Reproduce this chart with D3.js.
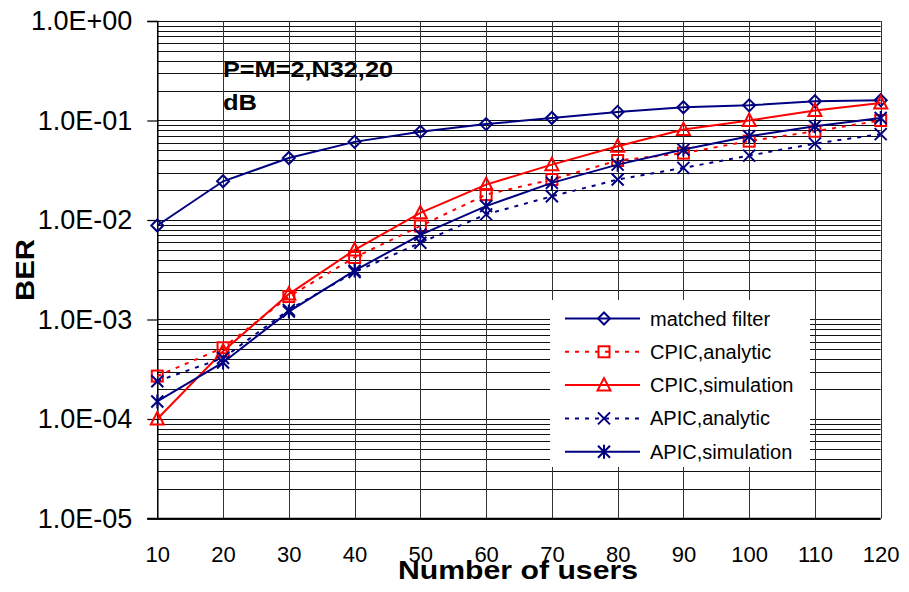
<!DOCTYPE html>
<html>
<head>
<meta charset="utf-8">
<script src="https://cdn.jsdelivr.net/npm/d3@7"></script>
<style>
  body { margin:0; background:#fff; }
  text { font-family: "Liberation Sans", Arial, sans-serif; }
</style>
</head>
<body>
<div id="chart"></div>
<script>
// values
var users = [10, 20, 30, 40, 50, 60, 70, 80, 90, 100, 110, 120];
var matchedFilter = [0.0088, 0.0245, 0.042, 0.061, 0.077, 0.092, 0.106, 0.122, 0.136, 0.142, 0.156, 0.160];
var cpicAnalytic  = [2.7e-4, 5.2e-4, 1.7e-3, 4.2e-3, 8.7e-3, 0.018, 0.0255, 0.0396, 0.047, 0.062, 0.078, 0.100];
var cpicSim       = [1.0e-4, 4.8e-4, 1.8e-3, 5.0e-3, 0.0118, 0.0227, 0.036, 0.055, 0.081, 0.100, 0.126, 0.150];
var apicAnalytic  = [2.4e-4, 4.1e-4, 1.25e-3, 3.0e-3, 5.9e-3, 0.0114, 0.0173, 0.0255, 0.0334, 0.0444, 0.0586, 0.073];
var apicSim       = [1.5e-4, 3.7e-4, 1.2e-3, 3.1e-3, 7.1e-3, 0.0138, 0.0236, 0.036, 0.051, 0.0695, 0.0874, 0.106];
var yTickLabels = ["1.0E-05", "1.0E-04", "1.0E-03", "1.0E-02", "1.0E-01", "1.0E+00"];
var seriesNames = ["matched filter", "CPIC,analytic", "CPIC,simulation", "APIC,analytic", "APIC,simulation"];

var W = 909, H = 592;
var plotL = 157.3, plotR = 880.7, plotT = 21, plotB = 518.5;

var svg = d3.select("#chart").append("svg")
    .attr("width", W).attr("height", H);

var x = d3.scaleLinear().domain([10, 120]).range([plotL, plotR]);
var y = d3.scaleLog().domain([1e-5, 1]).range([plotB, plotT]);

// horizontal grid (log minor lines)
svg.append("g").selectAll("line")
    .data(y.ticks())
    .enter().append("line")
    .attr("x1", plotL).attr("x2", plotR)
    .attr("y1", function(d) { return Math.round(y(d)) + 0.5; })
    .attr("y2", function(d) { return Math.round(y(d)) + 0.5; })
    .attr("stroke", "#111").attr("stroke-width", 1);

// vertical grid
svg.append("g").selectAll("line")
    .data(users)
    .enter().append("line")
    .attr("x1", function(d) { return Math.round(x(d)) + 0.5; })
    .attr("x2", function(d) { return Math.round(x(d)) + 0.5; })
    .attr("y1", plotT).attr("y2", plotB)
    .attr("stroke", "#333").attr("stroke-width", 1);

// y axis
var decades = [1e-5, 1e-4, 1e-3, 1e-2, 1e-1, 1];
var yAxis = d3.axisLeft(y).tickValues(decades)
    .tickFormat(function(d, i) { return yTickLabels[i]; })
    .tickSize(10).tickPadding(15);
var gy = svg.append("g").attr("transform", "translate(" + plotL + ",0)").call(yAxis);
gy.select(".domain").attr("stroke", "#000").attr("stroke-width", 1.5);
gy.selectAll(".tick line").attr("stroke", "#000").attr("stroke-width", 1.2);
gy.selectAll(".tick text").attr("font-size", 27).attr("fill", "#000")
    .attr("font-family", "Liberation Sans, Arial, sans-serif");

// x axis (labels only, bottom line)
var xAxis = d3.axisBottom(x).tickValues(users).tickSize(0).tickPadding(28);
var gx = svg.append("g").attr("transform", "translate(0," + plotB + ")").call(xAxis);
gx.select(".domain").attr("stroke", "#000").attr("stroke-width", 1.5)
    .attr("d", "M" + (plotL - 10) + ",0H" + plotR);
gx.selectAll(".tick text").attr("font-size", 22).attr("fill", "#000")
    .attr("font-family", "Liberation Sans, Arial, sans-serif");

// axis titles
svg.append("text")
    .attr("x", 518).attr("y", 579)
    .attr("text-anchor", "middle")
    .attr("font-size", 26).attr("font-weight", "bold")
    .attr("textLength", 240).attr("lengthAdjust", "spacingAndGlyphs")
    .text("Number of users");

svg.append("text")
    .attr("transform", "translate(34,270) rotate(-90)")
    .attr("text-anchor", "middle")
    .attr("font-size", 26).attr("font-weight", "bold")
    .attr("textLength", 62).attr("lengthAdjust", "spacingAndGlyphs")
    .text("BER");

// annotation
svg.append("text")
    .attr("x", 223).attr("y", 77)
    .attr("font-size", 22).attr("font-weight", "bold")
    .attr("textLength", 170).attr("lengthAdjust", "spacingAndGlyphs")
    .text("P=M=2,N32,20");
svg.append("text")
    .attr("x", 223).attr("y", 110)
    .attr("font-size", 22).attr("font-weight", "bold")
    .attr("textLength", 34).attr("lengthAdjust", "spacingAndGlyphs")
    .text("dB");

// marker shapes
function drawMarker(g, type, cx, cy, color) {
  var s = 6;
  if (type == "diamond") {
    g.append("path").attr("d", "M" + cx + "," + (cy - s) + "L" + (cx + s) + "," + cy + "L" + cx + "," + (cy + s) + "L" + (cx - s) + "," + cy + "Z")
      .attr("fill", "none").attr("stroke", color).attr("stroke-width", 2);
  } else if (type == "square") {
    g.append("rect").attr("x", cx - 5.5).attr("y", cy - 5.5).attr("width", 11).attr("height", 11)
      .attr("fill", "none").attr("stroke", color).attr("stroke-width", 2);
  } else if (type == "triangle") {
    g.append("path").attr("d", "M" + cx + "," + (cy - 7) + "L" + (cx + 6.5) + "," + (cy + 5.5) + "L" + (cx - 6.5) + "," + (cy + 5.5) + "Z")
      .attr("fill", "none").attr("stroke", color).attr("stroke-width", 2);
  } else if (type == "x") {
    g.append("path").attr("d", "M" + (cx - s) + "," + (cy - s) + "L" + (cx + s) + "," + (cy + s) + "M" + (cx + s) + "," + (cy - s) + "L" + (cx - s) + "," + (cy + s))
      .attr("fill", "none").attr("stroke", color).attr("stroke-width", 2);
  } else if (type == "star") {
    g.append("path").attr("d", "M" + (cx - s) + "," + (cy - s) + "L" + (cx + s) + "," + (cy + s) + "M" + (cx + s) + "," + (cy - s) + "L" + (cx - s) + "," + (cy + s) + "M" + cx + "," + (cy - s - 1) + "L" + cx + "," + (cy + s + 1))
      .attr("fill", "none").attr("stroke", color).attr("stroke-width", 2);
  }
}

var navy = "#000080", red = "#FF0000";
var series = [
  { name: seriesNames[0], values: matchedFilter, color: navy, dash: null, marker: "diamond" },
  { name: seriesNames[1], values: cpicAnalytic, color: red, dash: "4,6", marker: "square" },
  { name: seriesNames[2], values: cpicSim, color: red, dash: null, marker: "triangle" },
  { name: seriesNames[3], values: apicAnalytic, color: navy, dash: "4,6", marker: "x" },
  { name: seriesNames[4], values: apicSim, color: navy, dash: null, marker: "star" }
];

var line = d3.line()
    .x(function(d, i) { return x(users[i]); })
    .y(function(d) { return y(d); });

series.forEach(function(s) {
  var g = svg.append("g");
  g.append("path").datum(s.values)
    .attr("d", line)
    .attr("fill", "none")
    .attr("stroke", s.color)
    .attr("stroke-width", 2)
    .attr("stroke-dasharray", s.dash);
  s.values.forEach(function(v, i) {
    drawMarker(g, s.marker, x(users[i]), y(v), s.color);
  });
});

// legend
var lg = svg.append("g");
lg.append("rect").attr("x", 550).attr("y", 300).attr("width", 260).attr("height", 167).attr("fill", "#fff");
series.forEach(function(s, i) {
  var cy = 318.5 + i * 33.3;
  lg.append("line").attr("x1", 565).attr("x2", 640).attr("y1", cy).attr("y2", cy)
    .attr("stroke", s.color).attr("stroke-width", 2).attr("stroke-dasharray", s.dash);
  drawMarker(lg, s.marker, 604, cy, s.color);
  lg.append("text").attr("x", 650).attr("y", cy + 7)
    .attr("font-size", 20).attr("fill", "#000")
    .text(s.name);
});
</script>
</body>
</html>
